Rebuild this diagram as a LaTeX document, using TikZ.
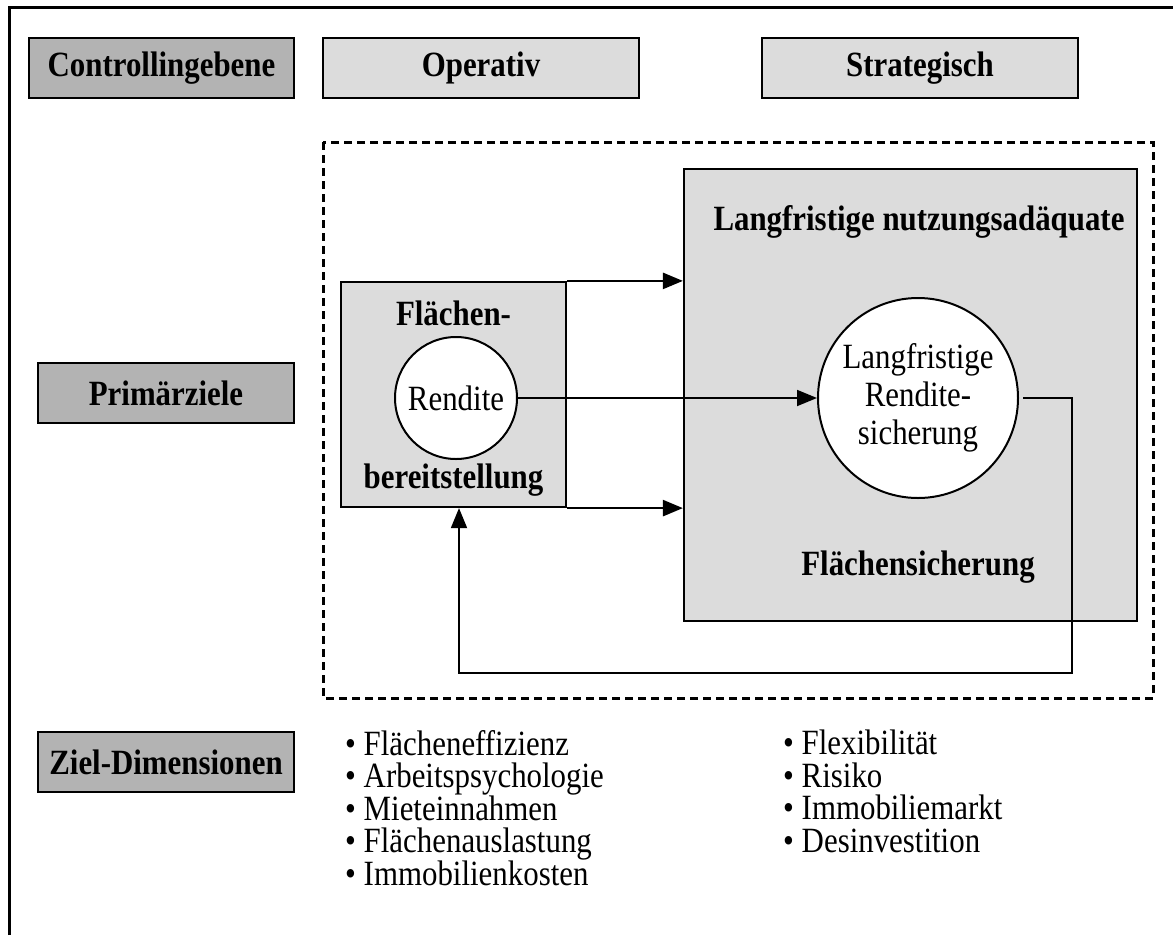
\documentclass[tikz,border=0pt]{standalone}
\usepackage{fontspec}
\setmainfont{Liberation Serif}[FakeStretch=0.87]
\usetikzlibrary{positioning,arrows.meta}
\definecolor{dunkelgrau}{HTML}{B3B3B3}
\definecolor{hellgrau}{HTML}{DCDCDC}
\tikzset{
  ebene/.style={draw, line width=2.2pt, fill=dunkelgrau, minimum height=60pt, inner sep=0pt,
    font=\fontsize{35.5}{38}\selectfont\bfseries},
  zeitraum/.style={ebene, fill=hellgrau, minimum width=316pt},
  feld/.style={draw, line width=2.2pt, fill=hellgrau, inner sep=0pt},
  ziel/.style={draw, line width=2pt, fill=white, circle, inner sep=0pt, align=center,
    font=\fontsize{35.5}{38}\selectfont},
  fett/.style={inner sep=0pt, font=\fontsize{35.5}{38}\selectfont\bfseries},
  liste/.style={inner sep=0pt, anchor=north west, align=left,
    font=\fontsize{35.5}{32.5}\selectfont},
  pfeil/.style={line width=2.6pt, -{Triangle[length=20pt,width=16pt]}},
  duenn/.style={pfeil, line width=1.8pt}
}

\begin{document}
\begin{tikzpicture}[x=1pt, y=-1pt]
\useasboundingbox (0,0) rectangle (1173,935);
% Rahmen
\draw[line width=2.8pt] (9.5,935) -- (9.5,7.5) -- (1173,7.5);

% Kopfzeile und Zeilen
\node[ebene, minimum width=265pt] (ebene) at (161.5,68) {Controllingebene};
\node[zeitraum] (operativ) at (481,68) {Operativ};
\node[zeitraum] (strategisch) at (920,68) {Strategisch};
\node[ebene, minimum width=256pt] (primaer) at (166,393) {Primärziele};
\node[ebene, minimum width=256pt] (dimension) at (166,762) {Ziel-Dimensionen};

% gestrichelter Bereich
\draw[line width=3pt, dash pattern=on 8pt off 5pt] (323,142) rectangle (1153,698);

% operative Ebene
\node[feld, minimum width=225pt, minimum height=225pt] (bereit) at (453.5,394.5) {};
\node[fett] (flaechen) at (453.5,313) {Flächen-};
\node[fett] (stellung) at (453.5,480) {bereitstellung};
\node[ziel, minimum size=122pt] (rendite) at (456,398) {Rendite};

% strategische Ebene
\node[feld, minimum width=453pt, minimum height=452pt] (sicherung) at (910.5,395) {};
\node[fett] (adaequat) at (919,222) {Langfristige nutzungsadäquate};
\node[fett] (flsicher) at (918,567) {Flächensicherung};
\node[ziel, minimum size=200pt] (langrendite) at (918,398) {Langfristige\\Rendite-\\sicherung};

% Verbindungen
\draw[pfeil] (bereit.north east) -- (bereit.north east -| sicherung.west);
\draw[pfeil] (bereit.south east) -- (bereit.south east -| sicherung.west);
\draw[duenn] (rendite.east) -- (langrendite.west);
\coordinate (rueck) at (1072,673);
\draw[duenn] ([xshift=4pt]langrendite.east) -| (rueck) -| ([xshift=5.5pt]bereit.south);

% Ziel-Dimensionen
\node[liste] (listeop) at (345,730) {• Flächeneffizienz\\• Arbeitspsychologie\\• Mieteinnahmen\\• Flächenauslastung\\• Immobilienkosten};
\node[liste] (listestr) at (783,730) {• Flexibilität\\• Risiko\\• Immobiliemarkt\\• Desinvestition};
\end{tikzpicture}
\end{document}
